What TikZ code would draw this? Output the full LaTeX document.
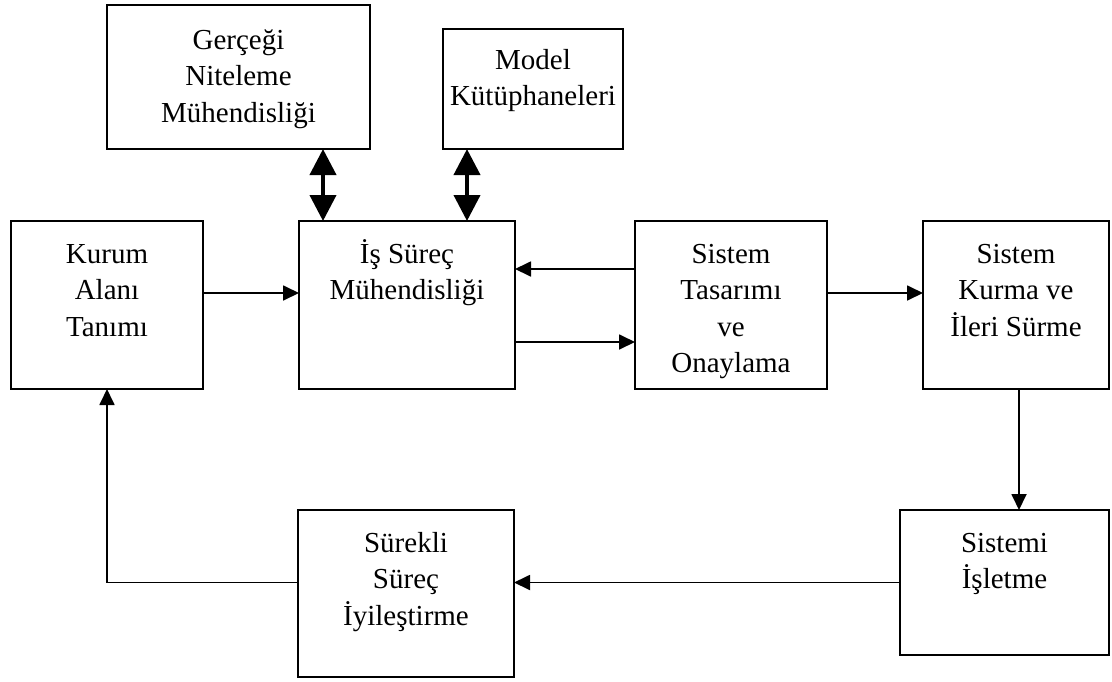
\documentclass[tikz,border=0pt]{standalone}
\usepackage{fontspec}
\setmainfont{Liberation Serif}
\usetikzlibrary{arrows.meta}
\newcommand\firstline{\rule{0pt}{30pt}}
\begin{document}
\begin{tikzpicture}[x=1pt,y=-1pt,
  box/.style={draw, line width=1.8pt, inner sep=0pt, outer sep=0pt, anchor=north west},
  boxtext/.style={anchor=north, align=center, inner sep=0pt, font=\fontsize{29}{36.5}\selectfont},
  link/.style={line width=1.8pt, -{Triangle[width=15pt,length=16pt]}},
  twoway/.style={line width=4pt, {Triangle[width=26pt,length=26pt]}-{Triangle[width=26pt,length=26pt]}}
]
\useasboundingbox (0,0) rectangle (1112,681);

% boxes
\node[box, minimum width=263pt, minimum height=144pt] (g)  at (107,5)   {};
\node[box, minimum width=180pt, minimum height=120pt] (m)  at (443,29)  {};
\node[box, minimum width=192pt, minimum height=168pt] (k)  at (11,221)  {};
\node[box, minimum width=216pt, minimum height=168pt] (is) at (299,221) {};
\node[box, minimum width=192pt, minimum height=168pt] (t)  at (635,221) {};
\node[box, minimum width=186pt, minimum height=168pt] (ku) at (923,221) {};
\node[box, minimum width=209pt, minimum height=145pt] (si) at (900,510) {};
\node[box, minimum width=216pt, minimum height=167pt] (su) at (298,510) {};

% texts
\node[boxtext] (gt)  at ([yshift=-14pt]g.north)  {\firstline Gerçeği\\Niteleme\\Mühendisliği};
\node[boxtext] (mt)  at ([yshift=-10pt]m.north)  {\firstline Model\\Kütüphaneleri};
\node[boxtext] (kt)  at ([yshift=-12pt]k.north)  {\firstline Kurum\\Alanı\\Tanımı};
\node[boxtext] (ist) at ([yshift=-12pt]is.north) {\firstline İş Süreç\\Mühendisliği};
\node[boxtext] (tt)  at ([yshift=-12pt]t.north)  {\firstline Sistem\\Tasarımı\\ve\\Onaylama};
\node[boxtext] (kut) at ([yshift=-12pt]ku.north) {\firstline Sistem\\Kurma ve\\İleri Sürme};
\node[boxtext] (sit) at ([yshift=-12pt]si.north) {\firstline Sistemi\\İşletme};
\node[boxtext] (sut) at ([yshift=-12pt]su.north) {\firstline Sürekli\\Süreç\\İyileştirme};

% connectors
\draw[twoway] ([xshift=24pt]is.north west |- g.south) -- ([xshift=24pt]is.north west);
\draw[twoway] ([xshift=24pt]m.south west) -- ([xshift=24pt]m.south west |- is.north);
\draw[link] ([yshift=12pt]k.east) -- ([yshift=12pt]is.west);
\draw[link] ([yshift=36pt]t.west) -- ([yshift=36pt]is.east);
\draw[link] ([yshift=-37pt]is.east) -- ([yshift=-37pt]t.west);
\draw[link] ([yshift=12pt]t.east) -- ([yshift=12pt]ku.west);
\draw[link] ([xshift=3pt]ku.south) -- ([xshift=3pt]ku.south |- si.north);
\draw[link] (si.west) -- (si.west -| su.east);
\draw[link] (si.west -| su.west) -- (si.west -| k.south) -- (k.south);
\end{tikzpicture}
\end{document}
